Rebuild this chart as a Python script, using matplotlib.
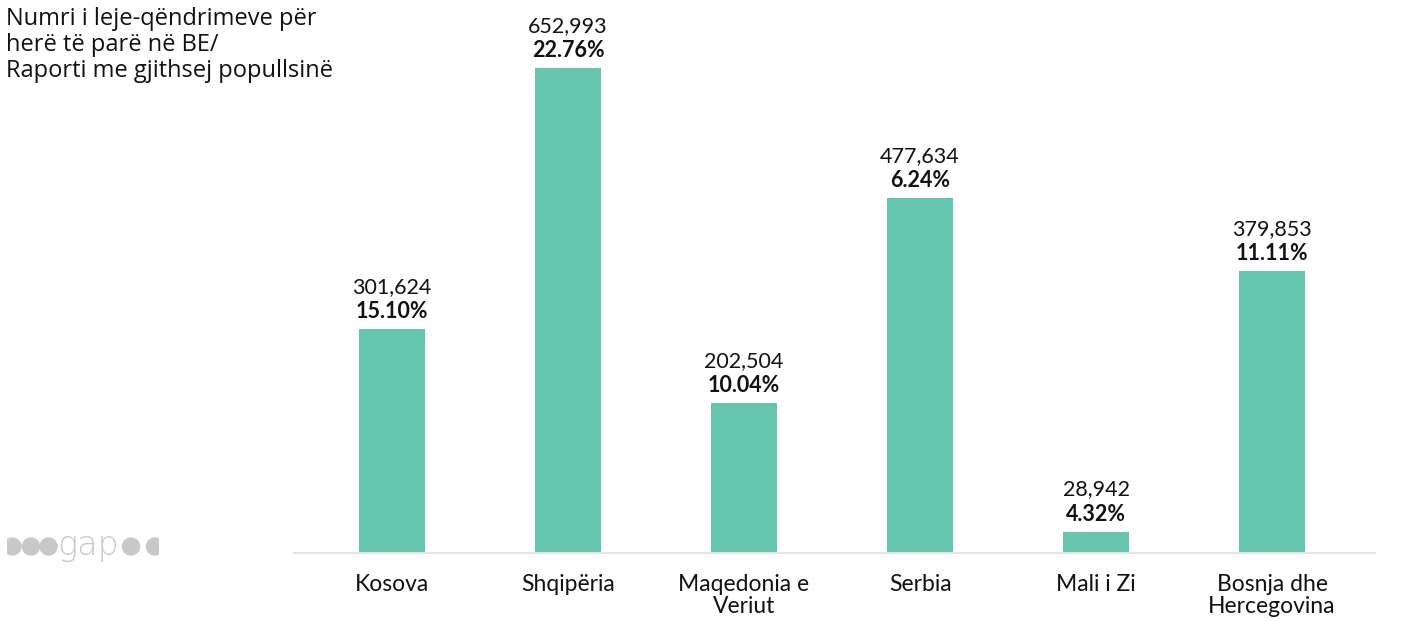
import matplotlib.pyplot as plt
from matplotlib.patches import Circle, Rectangle

# data
countries = ['Kosova', 'Shqipëria', 'Maqedonia e\nVeriut', 'Serbia', 'Mali i Zi', 'Bosnja dhe\nHercegovina']
permits = [301624, 652993, 202504, 477634, 28942, 379853]
shares = ['15.10%', '22.76%', '10.04%', '6.24%', '4.32%', '11.11%']
title = 'Numri i leje-qëndrimeve për\nherë të parë në BE/\nRaporti me gjithsej popullsinë'

bar_col = '#65c5ae'
txt_col = '#111111'
plt.rcParams['font.family'] = ['Lato', 'DejaVu Sans']

fig = plt.figure(figsize=(14.07, 6.21), dpi=100)
ax = fig.add_axes([294/1407, 1-553/621, (1375-294)/1407, 543/621])

x = range(len(countries))
ax.bar(x, permits, width=0.375, color=bar_col, zorder=2)
ax.set_xlim(-0.557, 5.585)
ax.set_ylim(0, 652993*543/485)

for i, (v, s) in enumerate(zip(permits, shares)):
    ax.annotate(f'{v:,}', (i, v), xytext=(0, 23), textcoords='offset points',
                ha='center', va='bottom', fontsize=15.5, color=txt_col)
    ax.annotate(s, (i, v), xytext=(0, 5), textcoords='offset points',
                ha='center', va='bottom', fontsize=15.5, color=txt_col, fontweight='bold')

ax.set_xticks(list(x))
ax.set_xticklabels(countries, fontsize=16.5, color=txt_col, linespacing=1.05)
ax.tick_params(axis='x', length=0, pad=15)
ax.set_yticks([])
for sp in ['top', 'right', 'left']:
    ax.spines[sp].set_visible(False)
ax.spines['bottom'].set_color('#e3e3e3')
ax.spines['bottom'].set_linewidth(1.5)

fig.text(6/1407, 1-7/621, title, ha='left', va='top', fontsize=17,
         color=txt_col, family=['Open Sans', 'DejaVu Sans'], linespacing=1.1)

# logo
lg = '#c8c8c8'
W, H = 1407, 621
la = fig.add_axes([0, 0, 1, 1], facecolor='none')
la.set_xlim(0, W)
la.set_ylim(H, 0)
la.axis('off')
cy, r = 546.5, 8.5
c0 = Circle((12.5, cy), r, color=lg)
la.add_patch(c0)
c0.set_clip_path(Rectangle((7, cy - 10), 20, 20, transform=la.transData))
la.add_patch(Circle((31, cy), r, color=lg))
la.add_patch(Circle((48.5, cy), r, color=lg))
la.text(57, cy - 1, 'gap', fontsize=24, color=lg, va='center', ha='left',
        family=['DejaVu Sans'], fontweight='light')
la.add_patch(Circle((131, cy), r, color=lg))
c5 = Circle((155, cy), r, color=lg)
la.add_patch(c5)
c5.set_clip_path(Rectangle((140, cy - 10), 19, 20, transform=la.transData))

fig.savefig('out.png', dpi=100, facecolor='white')
